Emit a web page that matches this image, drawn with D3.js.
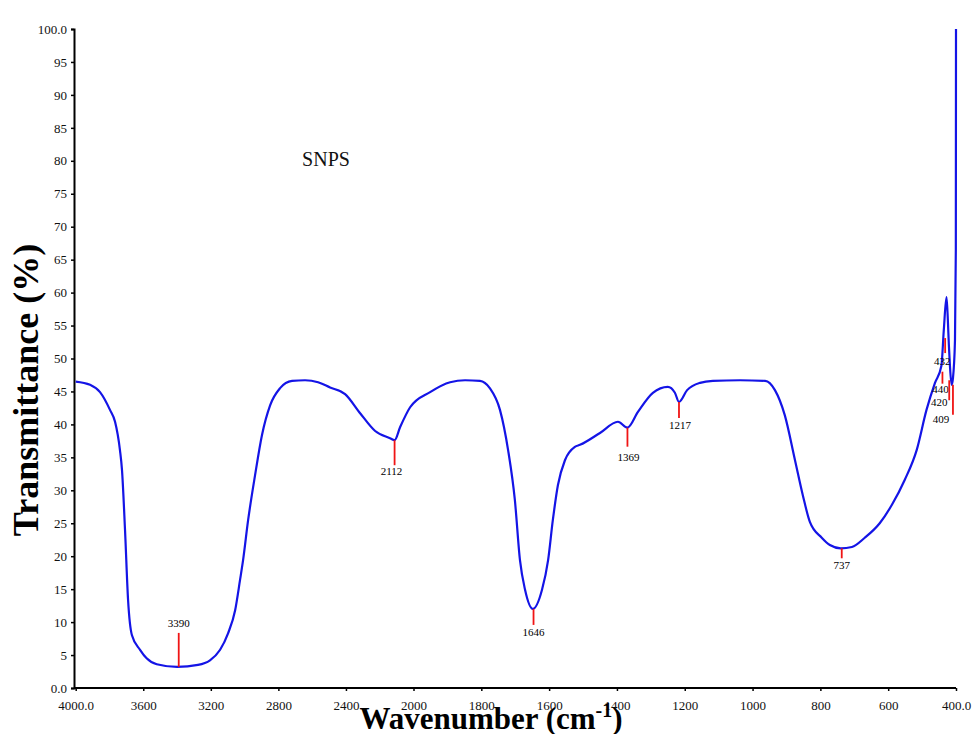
<!DOCTYPE html>
<html>
	<head>
		<meta charset="UTF-8">
		<title></title>
		<script src="https://cdn.jsdelivr.net/npm/d3@7/dist/d3.min.js"></script>
		<style>
			body{margin:0;background:#fff;}
		</style>
	</head>
	<body>
		<div id="chart"></div>
	</body>
	<script>
		//1、data
		var wavenumber=[4000,3915,3856,3797,3767,3738,3726,3708,3690,3667,3619,3580,3520,3400,3276,3205,3145,3098,3056,3027,3009,
			2979,2938,2897,2849,2790,2719,2642,2565,2494,2405,2316,2227,2139,2112,2079,2020,
			1951,1892,1848,1804,1775,1745,1721,1701,1686,1671,1648,1621,1603,1589,1574,1553,1524,1509,1450,1397,1369,1338,1294,1250,1229,1217,1193,1155,1117,1037,963,
			934,905,875,852,831,796,772,740,707,669,625,589,551,516,487,462,443,436,428,424,421,418,413,409,403,400.5,400];
		var transmittance=[46.5,46.0,44.9,42.2,40.4,36.1,33.1,24.0,13.4,8.0,5.8,4.5,3.6,3.2,3.5,4.2,5.8,8.3,11.8,16.4,19.4,
			25.5,32.3,38.4,42.9,45.5,46.6,46.7,46.4,45.6,44.6,41.7,39.0,37.9,37.6,39.6,42.6,
			44.9,46.4,46.7,46.6,45.5,42.2,36.1,28.5,19.4,14.9,12.0,14.9,19.4,25.5,30.8,34.6,36.6,36.9,38.7,40.4,39.5,41.9,44.8,45.7,44.8,43.4,45.2,46.3,46.6,46.7,46.6,
			45.2,41.4,34.6,29.3,25.2,22.8,21.7,21.2,21.4,22.8,25.0,27.8,31.6,36.1,42.2,46.3,48.9,54.3,59.3,55.8,52.0,49.0,46.0,47.0,52.8,66.5,100];

		//peak labels
		var peakWn=[3390,2112,1646,1369,1217,737,432,440,420,409];
		var peakT=[3.2,37.6,12.0,39.5,43.4,21.2,53.1,48.0,46.7,46.0];
		var peakLabels=["3390","2112","1646","1369","1217","737","432","440","420","409"];

		var xTicks=[4000,3600,3200,2800,2400,2000,1800,1600,1400,1200,1000,800,600,400];
		var xTickLabels=["4000.0","3600","3200","2800","2400","2000","1800","1600","1400","1200","1000","800","600","400.0"];
		var yTicks=[0,5,10,15,20,25,30,35,40,45,50,55,60,65,70,75,80,85,90,95,100];
		var yTickLabels=["0.0","5","10","15","20","25","30","35","40","45","50","55","60","65","70","75","80","85","90","95","100.0"];

		var width=972,height=734;
		var plotLeft=75.7,plotRight=956,plotTop=29,plotBottom=688;
		// marker layout: [line length px, label dx, label baseline offset from line end]
		var peakLayout=[[-34,0,-6],[25,-3,10],[16,0,11],[19,1,14],[16,1,11],[10,0,11],
			[15,-3,12],[12,-2,9],[20,-10,6],[30,-12,8]];

		//2、svg
		var svg=d3.select("#chart")
		.append("svg")
		.attr("width",width)
		.attr("height",height)
		.style("font-family","'Liberation Serif','Times New Roman',serif");

		//3、scales (axis changes scale at 2000)
		var xScale=d3.scaleLinear().domain([4000,2000,400]).range([plotLeft,413.5,plotRight]);
		var yScale=d3.scaleLinear().domain([0,100]).range([plotBottom,plotTop]);

		var xAxis=d3.axisBottom(xScale).tickValues(xTicks)
		.tickFormat(function(d,i){return xTickLabels[i];})
		.tickSize(3).tickPadding(10);
		var yAxis=d3.axisLeft(yScale).tickValues(yTicks)
		.tickFormat(function(d,i){return yTickLabels[i];})
		.tickSize(3).tickPadding(4);

		var gx=svg.append("g")
		.attr("transform","translate(0,"+plotBottom+")")
		.call(xAxis);
		var gy=svg.append("g")
		.attr("transform","translate(74,0)")
		.call(yAxis);
		[gx,gy].forEach(function(g){
			g.select(".domain").attr("stroke","#000").attr("stroke-width",2);
			g.selectAll(".tick line").attr("stroke","#000").attr("stroke-width",1.5);
			g.selectAll(".tick text").attr("fill","#111").style("font-size","13px")
			.style("font-family","'Liberation Serif',serif");
		});
		// x domain line extends to y axis
		gx.select(".domain").attr("d","M74,0H"+plotRight);

		//4、spectrum line
		var points=wavenumber.map(function(w,i){return [w,transmittance[i]];});
		var line=d3.line()
		.x(function(d){return xScale(d[0]);})
		.y(function(d){return yScale(d[1]);})
		.curve(d3.curveMonotoneX);
		svg.append("path")
		.datum(points)
		.attr("fill","none")
		.attr("stroke","#1414e6")
		.attr("stroke-width",2.2)
		.attr("stroke-linejoin","round")
		.attr("d",line);

		//5、peak markers
		var peaks=svg.selectAll(".peak").data(peakWn).enter().append("g").attr("class","peak");
		peaks.append("line")
		.attr("x1",function(d){return xScale(d);})
		.attr("x2",function(d){return xScale(d);})
		.attr("y1",function(d,i){return yScale(peakT[i]);})
		.attr("y2",function(d,i){return yScale(peakT[i])+peakLayout[i][0];})
		.attr("stroke","#f01414")
		.attr("stroke-width",1.8);
		peaks.append("text")
		.attr("x",function(d,i){return xScale(d)+peakLayout[i][1];})
		.attr("y",function(d,i){return yScale(peakT[i])+peakLayout[i][0]+peakLayout[i][2];})
		.attr("text-anchor","middle")
		.style("font-size","11px")
		.attr("fill","#000")
		.text(function(d,i){return peakLabels[i];});

		//6、titles
		svg.append("text")
		.attr("x",326).attr("y",166)
		.attr("text-anchor","middle")
		.style("font-size","20px")
		.attr("fill","#111")
		.text("SNPS");

		svg.append("text")
		.attr("transform","translate(38,390) rotate(-90)")
		.attr("text-anchor","middle")
		.style("font-size","36px")
		.style("font-weight","bold")
		.attr("fill","#000")
		.text("Transmittance (%)");

		var xt=svg.append("text")
		.attr("x",491).attr("y",729)
		.attr("text-anchor","middle")
		.style("font-size","31px")
		.style("font-weight","bold")
		.attr("fill","#000");
		xt.append("tspan").text("Wavenumber (cm");
		xt.append("tspan").attr("dy","-12").style("font-size","20px").text("-1");
		xt.append("tspan").attr("dy","12").text(")");
	</script>
</html>
